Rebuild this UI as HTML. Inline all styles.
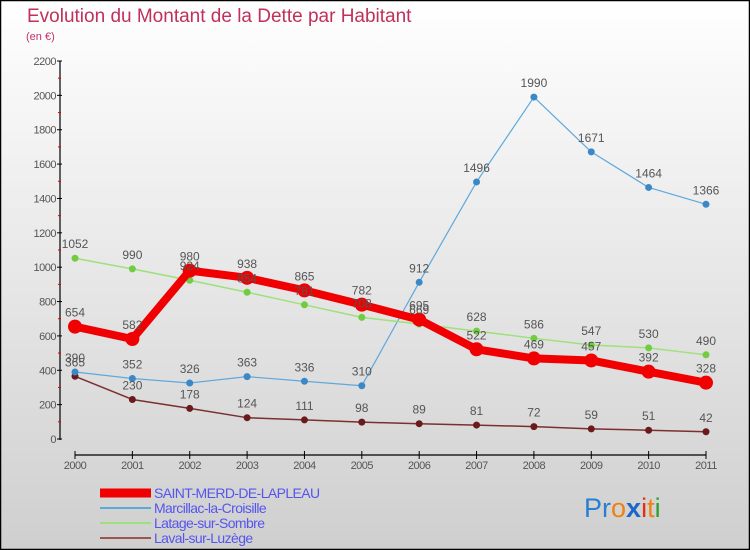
<!DOCTYPE html>
<html><head><meta charset="utf-8"><style>
html,body{margin:0;padding:0}
body{width:750px;height:550px;overflow:hidden;font-family:"Liberation Sans",sans-serif}
</style></head><body>
<svg id="chart" width="750" height="550" xmlns="http://www.w3.org/2000/svg" style="display:block">
<defs><linearGradient id="bg" x1="0" y1="0" x2="0" y2="1"><stop offset="0" stop-color="#ffffff"/><stop offset="1" stop-color="#cfcfcf"/></linearGradient></defs>
<rect x="0.5" y="0.5" width="749" height="549" fill="url(#bg)" stroke="#000" stroke-width="1.5"/>
<text x="27" y="22" font-size="19" fill="#c0305a" font-weight="300">Evolution du Montant de la Dette par Habitant</text>
<text x="26" y="40" font-size="11" fill="#c0306a">(en €)</text>
<g id="axes"></g><g id="series"></g><g id="legend"></g>
<text x="584" y="517" font-size="27" font-family="'Liberation Sans',sans-serif"><tspan fill="#2a7fd0">Pr</tspan><tspan fill="#f08010">o</tspan><tspan fill="#1b66c9" font-weight="bold">x</tspan><tspan fill="#e03010">i</tspan><tspan fill="#f08010">t</tspan><tspan fill="#30a030">i</tspan></text>
</svg>
<script>
const years=["2000","2001","2002","2003","2004","2005","2006","2007","2008","2009","2010","2011"];
const yTicks=[0,200,400,600,800,1000,1200,1400,1600,1800,2000,2200];
const saintMerd=[654,582,980,938,865,782,695,522,469,457,392,328];
const marcillac=[390,352,326,363,336,310,912,1496,1990,1671,1464,1366];
const latage=[1052,990,924,854,781,708,669,628,586,547,530,490];
const laval=[365,230,178,124,111,98,89,81,72,59,51,42];
const seriesNames=["SAINT-MERD-DE-LAPLEAU","Marcillac-la-Croisille","Latage-sur-Sombre","Laval-sur-Luzège"];

const NS="http://www.w3.org/2000/svg";
const x0=75,x1=706,yBase=439,yTop=61,yMax=2200;
const xs=i=>x0+i*(x1-x0)/(years.length-1);
const ys=v=>yBase-v*(yBase-yTop)/yMax;
function mk(t,a,p){const e=document.createElementNS(NS,t);for(const k in a)e.setAttribute(k,a[k]);p.appendChild(e);return e;}
const axes=document.getElementById('axes');
let ya=mk('line',{x1:60,y1:yTop,x2:60,y2:yBase+1,stroke:'#000','stroke-width':1.2},axes);


yTicks.forEach((v,i)=>{
  mk('line',{x1:57,y1:ys(v),x2:62,y2:ys(v),stroke:'#000'},axes);
  if(i<yTicks.length-1){mk('line',{x1:58,y1:ys(v+100),x2:61,y2:ys(v+100),stroke:'#e00000'},axes);}
  const t=mk('text',{x:56,y:ys(v)+4,'font-size':11,'text-anchor':'end',fill:'#555','letter-spacing':'-0.5'},axes);
  t.textContent=v;
  
  
});
let xa=mk('line',{x1:x0,y1:455,x2:x1,y2:455,stroke:'#000','stroke-width':1.2},axes);


years.forEach((y,i)=>{
  mk('line',{x1:xs(i),y1:451,x2:xs(i),y2:459,stroke:'#000'},axes);
  const t=mk('text',{x:xs(i),y:465+4,'font-size':11,'text-anchor':'middle',fill:'#555','letter-spacing':'-0.5'},axes);
  t.textContent=y;
  
  
});
const sg=document.getElementById('series');
const defs=[
 {d:laval,c:'#7a3030',m:'#6a1a1a',w:1.5,r:3.5,n:'laval'},
 {d:marcillac,c:'#5ea8dc',m:'#3a88c8',w:1.2,r:3.5,n:'marcillac'},
 {d:latage,c:'#9ee07a',m:'#70cc40',w:1.5,r:3.5,n:'latage'},
 {d:saintMerd,c:'#f00000',m:'#f00000',w:8,r:7,n:'saint-merd'}
];
defs.forEach(s=>{
  const g=mk('g',{},sg);
  
  
  const p=mk('polyline',{points:s.d.map((v,i)=>xs(i)+','+ys(v)).join(' '),fill:'none',stroke:s.c,'stroke-width':s.w,'stroke-linejoin':'round'},g);
  
  
  s.d.forEach((v,i)=>{
    const c=mk('circle',{cx:xs(i),cy:ys(v),r:s.r,fill:s.m},g);
    
    
  });
});
defs.forEach(s=>{
  s.d.forEach((v,i)=>{
    const t=mk('text',{x:xs(i),y:ys(v)-10,'font-size':12,'text-anchor':'middle',fill:'#555'},sg);
    t.textContent=v;
    
    
  });
});
const lg=document.getElementById('legend');
const lc=['#f00000','#5ea8dc','#9ee07a','#9a5555'],lw=[9,2,2,2];
seriesNames.forEach((n,i)=>{
  const y=493+i*15;
  const g=mk('g',{},lg);
  
  
  mk('line',{x1:100,y1:y,x2:151,y2:y,stroke:lc[i],'stroke-width':lw[i]},g);
  const t=mk('text',{x:154,y:y+5,'font-size':14,fill:'#5555ee','letter-spacing':'-0.6'},g);
  t.textContent=n;
});
</script>
</body></html>
